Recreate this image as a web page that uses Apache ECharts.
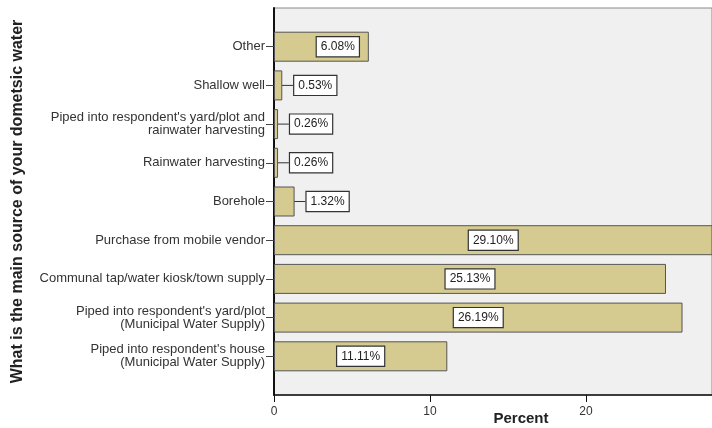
<!DOCTYPE html>
<html>
<head>
<meta charset="utf-8">
<script src="https://cdn.jsdelivr.net/npm/echarts@6/dist/echarts.min.js"></script>
<style>
html,body{margin:0;padding:0;background:#fff;}
#chart{width:712px;height:428px;}
</style>
</head>
<body>
<div id="chart"></div>
<script>
// Categories top-to-bottom
const categories = [
  "Other",
  "Shallow well",
  "Piped into respondent's yard/plot and\nrainwater harvesting",
  "Rainwater harvesting",
  "Borehole",
  "Purchase from mobile vendor",
  "Communal tap/water kiosk/town supply",
  "Piped into respondent's yard/plot\n(Municipal Water Supply)",
  "Piped into respondent's house\n(Municipal Water Supply)"
];
const percentValues = [6.08, 0.53, 0.26, 0.26, 1.32, 29.10, 25.13, 26.19, 11.11];
const xTicks = [0, 10, 20];

const FONT = '"Liberation Sans", Arial, sans-serif';

// pad categories so bars sit one band away from top/bottom frame
const axisCats = [''].concat(categories, ['']);
const barData = [null].concat(percentValues.map(function (v) {
  let label;
  if (v < 2) {
    label = { position: 'right', distance: 2 };
  } else if (v < 8) {
    label = { position: 'insideRight', distance: 10 };
  } else {
    label = { position: 'inside' };
  }
  return { value: v, label: label };
}), [null]);

const chart = echarts.init(document.getElementById('chart'), null, { renderer: 'canvas' });
chart.setOption({
  animation: false,
  backgroundColor: '#ffffff',
  grid: {
    left: 274, right: 0, top: 8, bottom: 33,
    outerBoundsMode: 'none',
    containLabel: false,
    show: true, backgroundColor: '#f0f0f0', borderColor: '#8a8a8a', borderWidth: 1
  },
  xAxis: {
    type: 'value',
    min: 0,
    max: 28.08,
    interval: 10,
    name: 'Percent',
    nameLocation: 'middle',
    nameGap: 16,
    nameMoveOverlap: false,
    nameTextStyle: { fontFamily: FONT, fontSize: 15, fontWeight: 'bold', color: '#222', padding: [0, 0, 0, 56] },
    axisLine: { show: true, lineStyle: { color: '#111', width: 1.5 } },
    axisTick: { show: true, length: 7, lineStyle: { color: '#111' } },
    axisLabel: {
      fontFamily: FONT, fontSize: 12, color: '#333', margin: 11, showMaxLabel: false,
      formatter: function (v) { return xTicks.indexOf(v) >= 0 ? String(v) : ''; }
    },
    splitLine: { show: false }
  },
  yAxis: {
    type: 'category',
    inverse: true,
    boundaryGap: false,
    data: axisCats,
    name: 'What is the main source of your dometsic water',
    nameLocation: 'middle',
    nameGap: 248,
    nameMoveOverlap: false,
    nameRotate: 90,
    nameTextStyle: { fontFamily: FONT, fontSize: 16, fontWeight: 'bold', color: '#222' },
    axisLine: { show: true, lineStyle: { color: '#111', width: 2 } },
    axisTick: {
      show: true, length: 8, lineStyle: { color: '#444' },
      interval: function (index, value) { return value !== ''; }
    },
    axisLabel: {
      fontFamily: FONT, fontSize: 13, color: '#333', margin: 9, align: 'right', lineHeight: 13,
      interval: 0
    }
  },
  series: [{
    type: 'bar',
    data: barData,
    barWidth: 30,
    clip: true,
    itemStyle: { color: '#d5ca8f', borderColor: '#555', borderWidth: 1 },
    label: {
      show: true,
      formatter: function (p) { return p.value.toFixed(2) + '%'; },
      fontFamily: FONT, fontSize: 12, color: '#222',
      backgroundColor: '#ffffff', borderColor: '#333', borderWidth: 1.2,
      padding: [4, 4, 3, 4]
    },
    labelLine: { show: true, lineStyle: { color: '#333', width: 1 } },
    labelLayout: function (params) {
      const v = percentValues[params.dataIndex - 1];
      if (v !== undefined && v < 2) {
        return { dx: 10 };
      }
      return {};
    }
  }]
});
</script>
</body>
</html>
